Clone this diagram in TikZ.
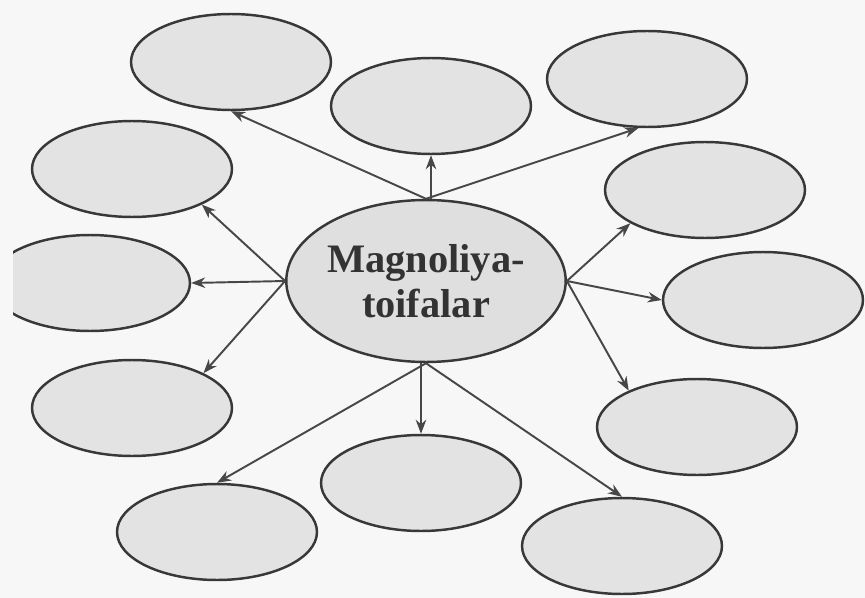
\documentclass[tikz,border=0pt]{standalone}
\usepackage{fontspec}
\setmainfont{Liberation Serif}
\usetikzlibrary{shapes.geometric,arrows.meta}

\tikzset{
  bubble/.style={ellipse, draw=black!78, line width=1.4pt, fill=gray!22,
    minimum width=4cm, minimum height=1.92cm, inner sep=0pt},
  hub/.style={bubble, minimum width=5.52cm, minimum height=3.24cm, fill=gray!25,
    font=\bfseries\fontsize{23}{25.6}\selectfont, text=black!80, align=center},
  link/.style={draw=black!72, line width=1.1pt, -{Stealth[length=8pt,width=6pt]}}
}

\begin{document}
\begin{tikzpicture}[x=0.02cm, y=-0.02cm]
    % page
    \fill[gray!6] (0,0) rectangle (865,598);
    \useasboundingbox (0,0) rectangle (865,598);
    \clip (13,0) rectangle (865,598);
    % centre
    \node[hub] (mag) at (426,281) {Magnoliya-\\toifalar};
    % ellipses round it
    \node[bubble] (tl) at (231,62) {};
    \node[bubble] (tm) at (431,106) {};
    \node[bubble] (tr) at (647,79) {};
    \node[bubble] (lu) at (132,169) {};
    \node[bubble] (ru) at (705,190) {};
    \node[bubble] (lm) at (90,283) {};
    \node[bubble] (rm) at (763,300) {};
    \node[bubble] (ll) at (132,408) {};
    \node[bubble] (rl) at (697,427) {};
    \node[bubble] (bm) at (421,483) {};
    \node[bubble] (bl) at (217,532) {};
    \node[bubble] (br) at (622,546) {};
    % arrows
    \draw[link] (mag.north) -- (tl.south);
    \draw[link] (tm.south |- mag.north) -- (tm.south);
    \draw[link] (mag.north) -- (tr.-100);
    \draw[link] (mag.west) -- (lu.-27);
    \draw[link] (mag.west) -- (lm.east);
    \draw[link] (mag.west) -- (ll.26);
    \draw[link] (mag.east) -- (ru.-156);
    \draw[link] (mag.east) -- (rm.west);
    \draw[link] (mag.east) -- (rl.152);
    \draw[link] (mag.south) -- (bl.north);
    \draw[link] (bm.north |- mag.south) -- (bm.north);
    \draw[link] (mag.south) -- (br.north);
\end{tikzpicture}
\end{document}
